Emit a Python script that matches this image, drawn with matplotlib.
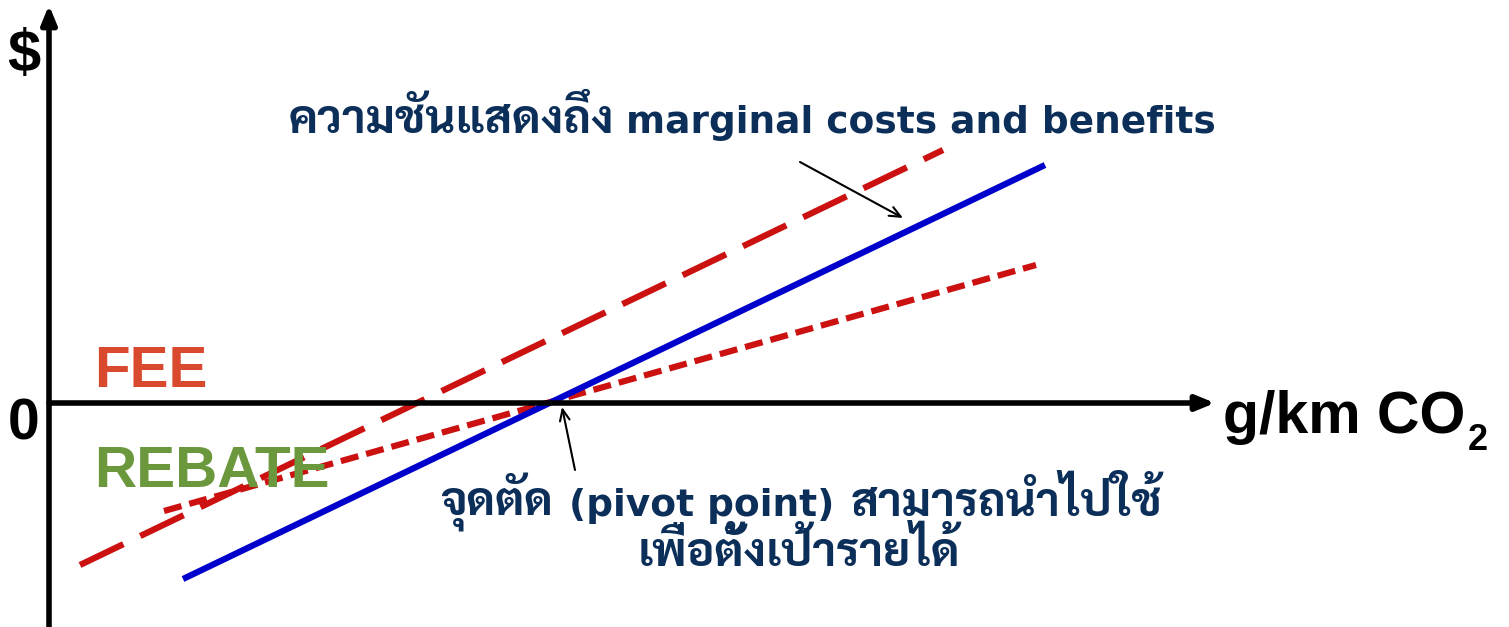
import matplotlib
matplotlib.use("Agg")
import matplotlib.pyplot as plt

# data (origin at the axis crossing, units of pixels)
mc_x = [134, 996]
mc_y = [-176, 238]
steep_x = [31, 894]
steep_y = [-162, 253]
flat_x = [115, 987]
flat_y = [-108, 138]

slope_note = ["ความชันแสดงถึง", "marginal costs and benefits"]
pivot_note = ["จุดตัด", "(pivot point)", "สามารถนำไปใช้"]
pivot_note2 = "เพื่อตั้งเป้ารายได้"

thai = ["DejaVu Sans", "Sarabun", "Noto Sans Thai", "Noto Sans Thai Looped"]
navy = "#0c2f5a"
thai_size = 33.5
latin_size = 27

fig = plt.figure(figsize=(15.09, 6.27), dpi=100)
ax = fig.add_axes([0, 0, 1, 1])
ax.set_xlim(-49, 1460)
ax.set_ylim(-224, 403)
ax.axis("off")


def text_row(pieces, cx, y, gap=13):
    # lay out pieces of different sizes on one baseline, centred on cx
    texts = [ax.text(0, y, s, fontsize=size, fontweight="bold", color=navy,
                     va="baseline", family=thai) for s, size in pieces]
    fig.canvas.draw()
    inv = ax.transData.inverted()
    widths = []
    for t in texts:
        bb = t.get_window_extent().transformed(inv)
        widths.append(bb.x1 - bb.x0)
    x = cx - (sum(widths) + gap * (len(texts) - 1)) / 2
    for t, w in zip(texts, widths):
        t.set_x(x)
        x += w + gap


# axes with arrow heads
ax.annotate("", xy=(0, 398), xytext=(0, -224),
            arrowprops=dict(arrowstyle="-|>,head_length=1.1,head_width=0.45",
                            color="black", lw=4, shrinkA=0, shrinkB=0))
ax.annotate("", xy=(1166, 0), xytext=(0, 0),
            arrowprops=dict(arrowstyle="-|>,head_length=1.1,head_width=0.45",
                            color="black", lw=4, shrinkA=0, shrinkB=0))

ax.plot(steep_x, steep_y, color="#cc1111", lw=4.5, dashes=(7.7, 3.0), solid_capstyle="butt")
ax.plot(flat_x, flat_y, color="#cc1111", lw=4.5, dashes=(2.9, 1.3), solid_capstyle="butt")
ax.plot(mc_x, mc_y, color="#0000cc", lw=4.5, solid_capstyle="butt")

# labels
ax.text(-42, 331, "$", fontsize=43, fontweight="bold", family="Liberation Sans")
ax.text(-41, -37, "0", fontsize=41, fontweight="bold", family="Liberation Sans")
unit = ax.text(1174, -30, "g/km CO", fontsize=42.5, fontweight="bold",
               family="Liberation Sans")
fig.canvas.draw()
bb = unit.get_window_extent().transformed(ax.transData.inverted())
ax.text(bb.x1 + 2, -47, "2", fontsize=26, fontweight="bold", family="Liberation Sans")

ax.text(45, 16, "FEE", fontsize=42, fontweight="bold", family="Liberation Sans",
        color="#d9492e")
ax.text(45, -84, "REBATE", fontsize=42, fontweight="bold", family="Liberation Sans",
        color="#6b983c")

text_row([(slope_note[0], thai_size), (slope_note[1], latin_size)], 703, 270, gap=12)
text_row([(pivot_note[0], thai_size), (pivot_note[1], latin_size),
          (pivot_note[2], thai_size)], 752, -113, gap=16)
text_row([(pivot_note2, thai_size)], 750, -163)

# pointer arrows
ax.annotate("", xy=(854, 185), xytext=(751, 241),
            arrowprops=dict(arrowstyle="->,head_length=0.8,head_width=0.35",
                            color="black", lw=1.5, shrinkA=0, shrinkB=0))
ax.annotate("", xy=(513, -4), xytext=(526, -67),
            arrowprops=dict(arrowstyle="->,head_length=0.8,head_width=0.35",
                            color="black", lw=1.5, shrinkA=0, shrinkB=0))

fig.savefig("out.png", dpi=100)
